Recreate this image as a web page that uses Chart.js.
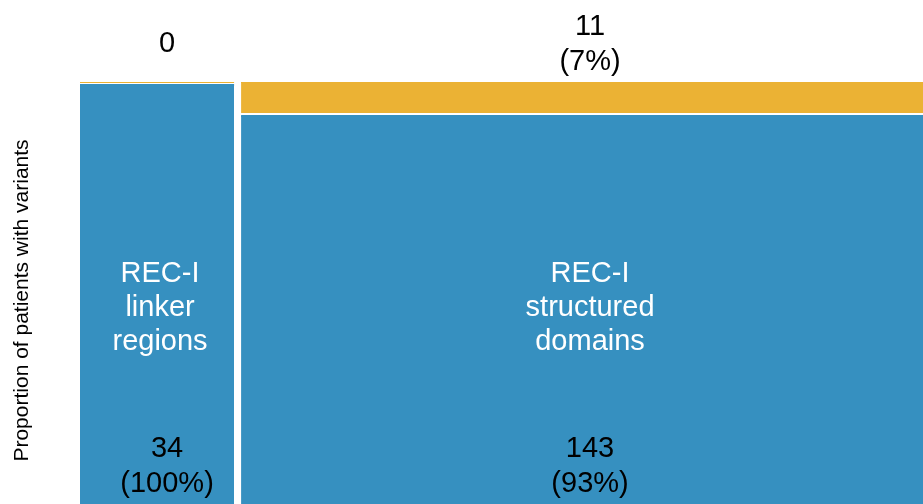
<!DOCTYPE html>
<html>
<head>
<meta charset="utf-8">
<title>REC-I variants</title>
<script src="https://cdn.jsdelivr.net/npm/chart.js@4.4.0/dist/chart.umd.min.js"></script>
<style>
  html, body { margin: 0; padding: 0; background: #fff; overflow: hidden; }
  #wrap { position: relative; width: 939px; height: 519px; }
</style>
</head>
<body>
<div id="wrap"><canvas id="mosaic"></canvas></div>
<script>
// Patients per REC-I region, split into the two variant groups
const regionNames = [['REC-I', 'linker', 'regions'], ['REC-I', 'structured', 'domains']];
const lowerCounts = [34, 143];   // blue tiles
const upperCounts = [0, 11];     // orange tiles

const BLUE = '#3690c0';
const ORANGE = '#ebb234';
const COL_GAP = 1.55;    // space between columns, in patients
const ROW_GAP = 0.007;   // space between stacked tiles, as a proportion
const FONT = '"Liberation Sans", Arial, Helvetica, sans-serif';

// column widths follow the number of patients in each region
const colTotals = lowerCounts.map((n, i) => n + upperCounts[i]);
const colStart = [];
let acc = 0;
colTotals.forEach(t => { colStart.push(acc); acc += t + COL_GAP; });
const xMax = acc - COL_GAP;

// a tile is a flat line at its top edge, filled down to its bottom edge
function tile(x0, x1, y0, y1, color) {
    return {
        data: [{ x: x0, y: y1 }, { x: x1, y: y1 }],
        fill: { value: y0 },
        backgroundColor: color,
        borderColor: color,
        borderWidth: 2,
        pointRadius: 0,
        pointHoverRadius: 0
    };
}

const datasets = [];
colTotals.forEach((t, i) => {
    const x0 = colStart[i], x1 = x0 + t;
    const pLow = lowerCounts[i] / t;
    datasets.push(tile(x0, x1, 0, pLow, BLUE));
    datasets.push(tile(x0, x1, pLow + ROW_GAP, 1 + ROW_GAP, ORANGE));
});

// text offsets for the narrow first column
const nameNudge = [3, 0];
const countNudge = [10, 0];

const tileLabels = {
    id: 'tileLabels',
    afterDatasetsDraw(chart) {
        const { ctx, chartArea, scales: { x, y } } = chart;
        const lh = 35;
        const pct = (n, t) => '(' + Math.round(100 * n / t) + '%)';
        const lines = (n, t) => n > 0 ? [String(n), pct(n, t)] : [String(n)];
        const block = (rows, cx, cy, color, step) => {
            ctx.fillStyle = color;
            rows.forEach((s, k) => ctx.fillText(s, cx, cy + (k - (rows.length - 1) / 2) * step));
        };
        ctx.save();
        ctx.textAlign = 'center';
        ctx.textBaseline = 'middle';
        ctx.font = '29px ' + FONT;
        colTotals.forEach((t, i) => {
            const cx = x.getPixelForValue(colStart[i] + t / 2);
            block(regionNames[i], cx + nameNudge[i], y.getPixelForValue(0.487), '#fff', 34);
            block(lines(lowerCounts[i], t), cx + countNudge[i], y.getPixelForValue(0.12), '#000', lh);
            block(lines(upperCounts[i], t), cx + countNudge[i], chartArea.top - 38, '#000', lh);
        });
        ctx.restore();
    }
};

Chart.defaults.font.family = FONT;

new Chart(document.getElementById('mosaic'), {
    type: 'line',
    data: { datasets },
    plugins: [tileLabels],
    options: {
        responsive: true,
        maintainAspectRatio: false,
        animation: false,
        events: [],
        layout: { padding: { top: 82, right: 0, bottom: 0, left: 0 } },
        plugins: { legend: { display: false }, tooltip: { enabled: false } },
        scales: {
            x: { type: 'linear', min: 0, max: xMax, display: false },
            y: {
                min: 0,
                max: 1 + ROW_GAP,
                grid: { display: false, drawTicks: false },
                border: { display: false },
                ticks: { display: false },
                title: {
                    display: true,
                    text: 'Proportion of patients with variants',
                    color: '#000',
                    font: { size: 21 },
                    padding: { top: 10, bottom: 0 }
                },
                afterFit(scale) { scale.width = 80; }
            }
        }
    }
});
</script>
</body>
</html>
